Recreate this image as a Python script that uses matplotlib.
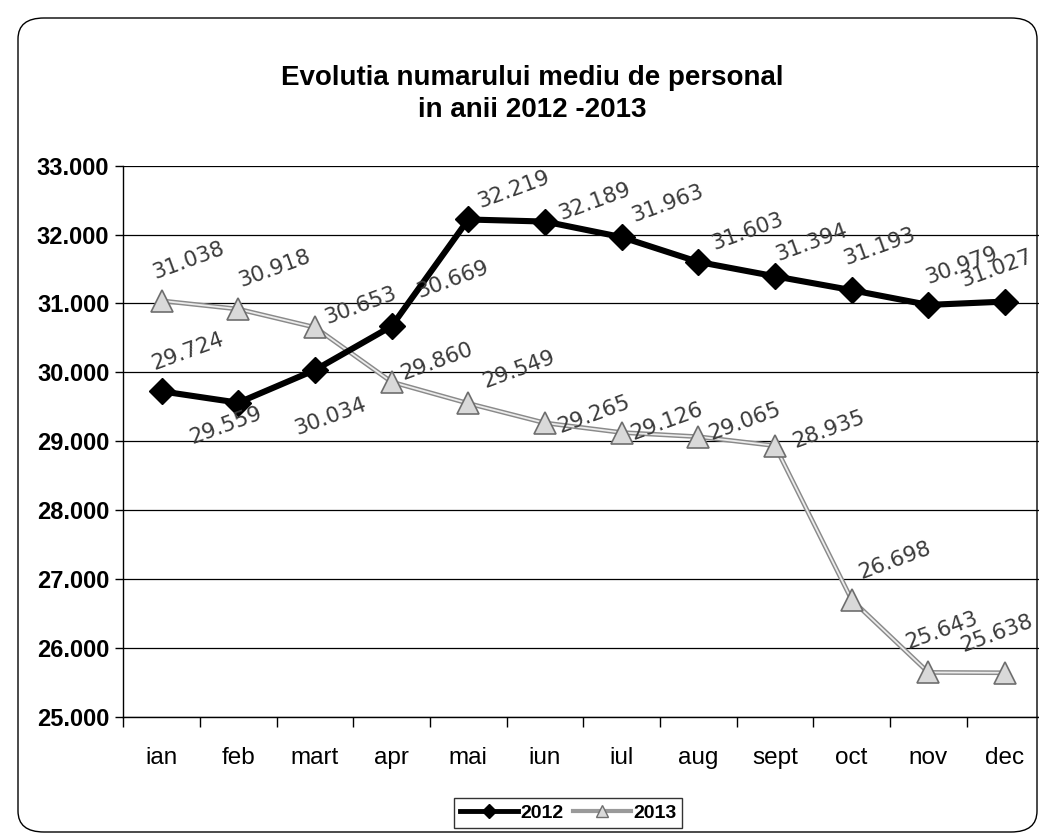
import matplotlib

matplotlib.use("Agg")
import matplotlib.pyplot as plt
from matplotlib.lines import Line2D
from matplotlib.patches import FancyBboxPatch
from matplotlib.ticker import FixedLocator, FuncFormatter

MONTHS = ["ian", "feb", "mart", "apr", "mai", "iun", "iul", "aug", "sept", "oct", "nov", "dec"]
VALUES_2012 = [29724, 29559, 30034, 30669, 32219, 32189, 31963, 31603, 31394, 31193, 30979, 31027]
VALUES_2013 = [31038, 30918, 30653, 29860, 29549, 29265, 29126, 29065, 28935, 26698, 25643, 25638]
Y_TICKS = [25000, 26000, 27000, 28000, 29000, 30000, 31000, 32000, 33000]

# data label offsets in pixels (dx, dy), relative to each point
OFFSETS_2012 = [(-6, 18), (-45, -45), (-16, -69), (29, 24), (13, 8), (18, -2),
                (14, 11), (17, 8), (5, 12), (-4, 21), (1, 17), (-40, 11)]
OFFSETS_2013 = [(-5, 18), (4, 18), (14, 0), (13, -2), (18, 12), (17, -14),
                (13, -11), (14, -7), (22, -6), (11, 17), (-19, 20), (-40, 17)]

TITLE = "Evolutia numarului mediu de personal\nin anii 2012 -2013"


def fmt(v, _pos=None):
    return f"{v / 1000:.3f}"


fig = plt.figure(figsize=(10.39, 8.39), dpi=100)
fig.patch.set_facecolor("white")

# rounded chart border
border = FancyBboxPatch(
    (18 / 1039, 1 - 832 / 839), (1019 / 1039), (814 / 839),
    boxstyle="round,pad=0,rounding_size=0.025",
    transform=fig.transFigure, facecolor="none", edgecolor="black", linewidth=1.0,
)
fig.add_artist(border)

ax = fig.add_axes([123.3 / 1039, 1 - 716.7 / 839, 920 / 1039, 551 / 839])
x = list(range(len(MONTHS)))

ax.plot(x, VALUES_2013, color="#8a8a8a", linewidth=3.4, zorder=3, solid_capstyle="butt")
ax.plot(x, VALUES_2013, color="#ececec", linewidth=1.3, zorder=3.1)
ax.plot(x, VALUES_2013, linestyle="none", marker="^", markersize=16,
        markerfacecolor="#d9d9d9", markeredgecolor="#6e6e6e", markeredgewidth=1.2,
        zorder=3.2, clip_on=False)

ax.plot(x, VALUES_2012, color="black", linewidth=4.4, marker="D", markersize=13,
        markerfacecolor="black", markeredgecolor="black", zorder=4, clip_on=False)

for xi, v, (dx, dy) in zip(x, VALUES_2012, OFFSETS_2012):
    ax.annotate(fmt(v), (xi, v), xytext=(dx, dy), textcoords="offset pixels",
                rotation=20, rotation_mode="anchor", ha="left", va="bottom",
                fontsize=15.5, color="#3a3a3a", family="DejaVu Sans", zorder=5,
                annotation_clip=False)
for xi, v, (dx, dy) in zip(x, VALUES_2013, OFFSETS_2013):
    ax.annotate(fmt(v), (xi, v), xytext=(dx, dy), textcoords="offset pixels",
                rotation=20, rotation_mode="anchor", ha="left", va="bottom",
                fontsize=15.5, color="#3a3a3a", family="DejaVu Sans", zorder=5,
                annotation_clip=False)

ax.set_xlim(-0.5, 11.5)
ax.set_ylim(25000, 33000)
ax.yaxis.set_major_locator(FixedLocator(Y_TICKS))
ax.yaxis.set_major_formatter(FuncFormatter(fmt))
ax.set_xticks(x)
ax.set_xticklabels(MONTHS)
ax.set_xticks([i - 0.5 for i in range(len(MONTHS) + 1)], minor=True)
ax.tick_params(axis="x", which="major", length=0, pad=22, labelsize=17.5)
ax.tick_params(axis="x", which="minor", length=7, width=1, direction="out")
ax.tick_params(axis="y", length=6, width=1, direction="out", pad=4, labelsize=17)
for lab in ax.get_yticklabels():
    lab.set_fontweight("bold")
    lab.set_family("Liberation Sans")
for lab in ax.get_xticklabels():
    lab.set_family("Liberation Sans")

ax.grid(True, axis="y", color="black", linewidth=0.9)
ax.set_axisbelow(True)
for side in ("top", "right"):
    ax.spines[side].set_visible(False)
ax.spines["left"].set_linewidth(1.0)
ax.spines["bottom"].set_linewidth(1.0)

fig.text(0.512, 1 - 94 / 839, TITLE, ha="center", va="center", fontsize=20,
         fontweight="bold", family="Liberation Sans", linespacing=1.3)

handles = [
    Line2D([], [], color="black", linewidth=3.5, marker="D", markersize=7),
    Line2D([], [], color="#9a9a9a", linewidth=3, marker="^", markersize=9,
           markerfacecolor="#d9d9d9", markeredgecolor="#6e6e6e"),
]
leg = fig.legend(handles, ["2012", "2013"], loc="center", bbox_to_anchor=(568 / 1039, 1 - 813 / 839),
                 ncol=2, frameon=True, fancybox=False, edgecolor="black", handlelength=3.0,
                 columnspacing=0.5, handletextpad=0.1, borderpad=0.3, borderaxespad=0,
                 prop={"family": "Liberation Sans", "weight": "bold", "size": 14})
leg.get_frame().set_linewidth(1.0)

fig.savefig("out.png", dpi=100)
